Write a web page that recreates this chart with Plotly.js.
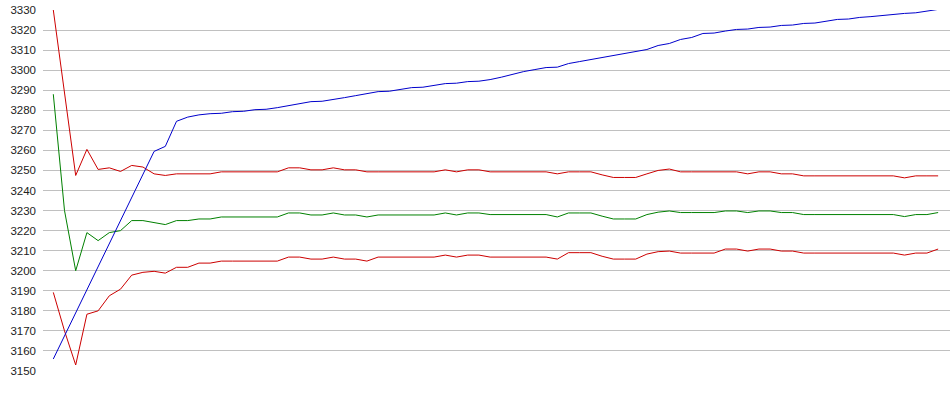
<!DOCTYPE html>
<html>
<head>
<meta charset="utf-8">
<script src="https://cdn.plot.ly/plotly-3.0.1.min.js"></script>
<style>html,body{margin:0;padding:0;background:#fff;}#chart{width:950px;height:395px;}</style>
</head>
<body>
<div id="chart"></div>
<script>
const upperBand = [
3330, 3290, 3247.5, 3260.5, 3250.5, 3251.3, 3249.5, 3252.5, 3251.7, 3248.3,
3247.5, 3248.3, 3248.3, 3248.3, 3248.3, 3249.3, 3249.3, 3249.3, 3249.3, 3249.3,
3249.3, 3251.3, 3251.3, 3250.3, 3250.3, 3251.3, 3250.3, 3250.3, 3249.3, 3249.3,
3249.3, 3249.3, 3249.3, 3249.3, 3249.3, 3250.3, 3249.3, 3250.3, 3250.3, 3249.3,
3249.3, 3249.3, 3249.3, 3249.3, 3249.3, 3248.3, 3249.3, 3249.3, 3249.3, 3247.8,
3246.5, 3246.5, 3246.5, 3248.3, 3250, 3250.7, 3249.3, 3249.3, 3249.3, 3249.3,
3249.3, 3249.3, 3248.3, 3249.3, 3249.3, 3248.3, 3248.3, 3247.3, 3247.3, 3247.3,
3247.3, 3247.3, 3247.3, 3247.3, 3247.3, 3247.3, 3246.3, 3247.3, 3247.3, 3247.3
];
const middleBand = [
3288, 3230, 3200, 3219, 3215, 3219, 3220, 3225, 3225, 3224,
3223, 3225, 3225, 3225.8, 3225.8, 3226.8, 3226.8, 3226.8, 3226.8, 3226.8,
3226.8, 3228.8, 3228.8, 3227.8, 3227.8, 3228.8, 3227.8, 3227.8, 3226.8, 3227.8,
3227.8, 3227.8, 3227.8, 3227.8, 3227.8, 3228.8, 3227.8, 3228.8, 3228.8, 3228,
3228, 3228, 3228, 3228, 3228, 3226.8, 3228.8, 3228.8, 3228.8, 3227.2,
3225.8, 3225.8, 3225.8, 3228, 3229.2, 3229.8, 3229, 3229, 3229, 3229,
3229.8, 3229.8, 3229, 3229.8, 3229.8, 3229, 3229, 3228, 3228, 3228,
3228, 3228, 3228, 3228, 3228, 3228, 3227, 3228, 3228, 3229
];
const lowerBand = [
3189.2, 3170, 3153, 3178.3, 3180, 3187.5, 3190.8, 3197.8, 3199.2, 3199.7,
3198.8, 3201.7, 3201.7, 3203.8, 3203.8, 3204.8, 3204.8, 3204.8, 3204.8, 3204.8,
3204.8, 3206.8, 3206.8, 3205.8, 3205.8, 3206.8, 3205.8, 3205.8, 3204.8, 3206.8,
3206.8, 3206.8, 3206.8, 3206.8, 3206.8, 3207.8, 3206.8, 3207.8, 3207.8, 3206.8,
3206.8, 3206.8, 3206.8, 3206.8, 3206.8, 3205.8, 3209, 3209, 3209, 3207.2,
3205.8, 3205.8, 3205.8, 3208.3, 3209.5, 3209.8, 3208.8, 3208.8, 3208.8, 3208.8,
3210.8, 3210.8, 3209.8, 3210.8, 3210.8, 3209.8, 3209.8, 3208.8, 3208.8, 3208.8,
3208.8, 3208.8, 3208.8, 3208.8, 3208.8, 3208.8, 3207.8, 3208.8, 3208.8, 3210.8
];
const priceLine = [
3156, 3167.5, 3179, 3190.5, 3202, 3213.5, 3225, 3236.5, 3248, 3259.5,
3262, 3274.5, 3276.6, 3277.7, 3278.3, 3278.5, 3279.3, 3279.5, 3280.3, 3280.5,
3281.3, 3282.3, 3283.3, 3284.3, 3284.5, 3285.3, 3286.3, 3287.3, 3288.3, 3289.3,
3289.5, 3290.3, 3291.3, 3291.5, 3292.3, 3293.3, 3293.5, 3294.3, 3294.5, 3295.3,
3296.5, 3298, 3299.3, 3300.3, 3301.3, 3301.5, 3303.3, 3304.3, 3305.3, 3306.3,
3307.3, 3308.3, 3309.3, 3310.3, 3312.3, 3313.3, 3315.3, 3316.3, 3318.3, 3318.5,
3319.5, 3320.3, 3320.5, 3321.3, 3321.5, 3322.3, 3322.5, 3323.3, 3323.5, 3324.5,
3325.3, 3325.5, 3326.3, 3326.7, 3327.3, 3327.6, 3328.3, 3328.6, 3329.3, 3330.3
];
const xIdx = priceLine.map((_, i) => i);
const yTicks = [3150,3160,3170,3180,3190,3200,3210,3220,3230,3240,3250,3260,3270,3280,3290,3300,3310,3320,3330];

const mk = (y, color) => ({x: xIdx, y: y, type: 'scatter', mode: 'lines',
  line: {color: color, width: 1}, hoverinfo: 'skip', cliponaxis: true});

const data = [
  mk(upperBand, '#cc0000'),
  mk(middleBand, '#008000'),
  mk(lowerBand, '#cc0000'),
  mk(priceLine, '#0000cc')
];

const layout = {
  width: 950, height: 395,
  margin: {l: 43, r: 0, t: 10, b: 24, pad: 0},
  paper_bgcolor: '#ffffff', plot_bgcolor: '#ffffff',
  showlegend: false,
  font: {family: '"Liberation Sans", Arial, sans-serif', size: 11.5, color: '#222222'},
  xaxis: {range: [-0.92, 80.06], showgrid: false, zeroline: false, showticklabels: false,
    ticks: '', showline: false, fixedrange: true},
  yaxis: {range: [3150, 3330], tickvals: yTicks, ticktext: yTicks.map(String),
    showgrid: true, gridcolor: '#c0c0c0', gridwidth: 1, zeroline: false, showline: false,
    ticks: '', ticklabelstandoff: 6, fixedrange: true}
};

Plotly.newPlot('chart', data, layout, {displayModeBar: false, staticPlot: true});
</script>
</body>
</html>
